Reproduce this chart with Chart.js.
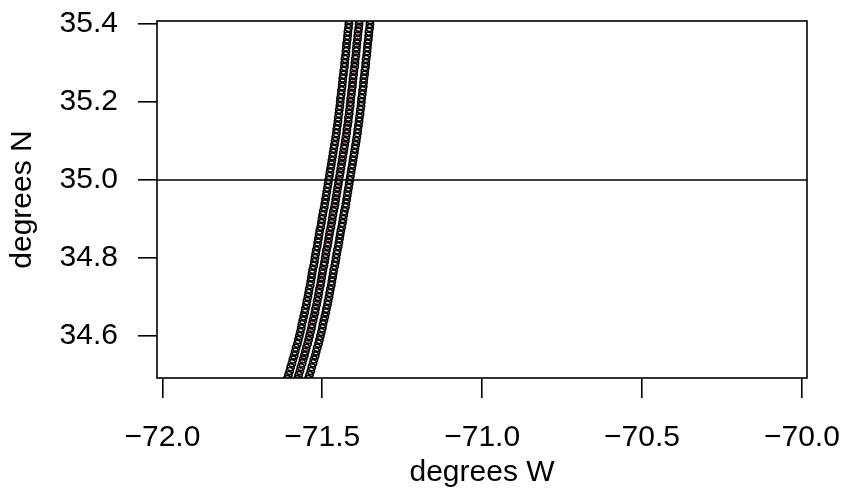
<!DOCTYPE html>
<html>
<head>
<meta charset="utf-8">
<script src="https://cdn.jsdelivr.net/npm/chart.js@4.4.0/dist/chart.umd.min.js"></script>
<style>
  body { margin: 0; background: #fff; }
  canvas { display: block; }
</style>
</head>
<body>
<canvas id="track-chart" width="847" height="491"></canvas>
<script>
// Station track data (degrees N / degrees W)
const lats = [35.42, 35.41, 35.40, 35.39, 35.38, 35.37, 35.36, 35.35, 35.34, 35.33,
  35.32, 35.31, 35.30, 35.29, 35.28, 35.27, 35.26, 35.25, 35.24, 35.23,
  35.22, 35.21, 35.20, 35.19, 35.18, 35.17, 35.16, 35.15, 35.14, 35.13,
  35.12, 35.11, 35.10, 35.09, 35.08, 35.07, 35.06, 35.05, 35.04, 35.03,
  35.02, 35.01, 35.00, 34.99, 34.98, 34.97, 34.96, 34.95, 34.94, 34.93,
  34.92, 34.91, 34.90, 34.89, 34.88, 34.87, 34.86, 34.85, 34.84, 34.83,
  34.82, 34.81, 34.80, 34.79, 34.78, 34.77, 34.76, 34.75, 34.74, 34.73,
  34.72, 34.71, 34.70, 34.69, 34.68, 34.67, 34.66, 34.65, 34.64, 34.63,
  34.62, 34.61, 34.60, 34.59, 34.58, 34.57, 34.56, 34.55, 34.54, 34.53,
  34.52, 34.51, 34.50, 34.49, 34.48];

const lonWest = [-71.415, -71.416, -71.417, -71.418, -71.420, -71.421, -71.422, -71.424, -71.425, -71.426,
  -71.427, -71.429, -71.430, -71.431, -71.433, -71.434, -71.436, -71.437, -71.438, -71.440,
  -71.441, -71.443, -71.444, -71.445, -71.447, -71.448, -71.450, -71.451, -71.453, -71.455,
  -71.456, -71.458, -71.460, -71.462, -71.464, -71.466, -71.468, -71.470, -71.472, -71.474,
  -71.476, -71.478, -71.480, -71.482, -71.484, -71.486, -71.488, -71.490, -71.492, -71.494,
  -71.497, -71.499, -71.501, -71.503, -71.505, -71.508, -71.510, -71.512, -71.514, -71.516,
  -71.519, -71.521, -71.523, -71.525, -71.527, -71.530, -71.532, -71.534, -71.536, -71.538,
  -71.541, -71.543, -71.545, -71.548, -71.550, -71.553, -71.555, -71.558, -71.561, -71.564,
  -71.566, -71.569, -71.572, -71.575, -71.578, -71.582, -71.585, -71.588, -71.592, -71.595,
  -71.599, -71.602, -71.606, -71.610, -71.614];

const lonMid = [-71.383, -71.384, -71.385, -71.386, -71.388, -71.389, -71.390, -71.392, -71.393, -71.394,
  -71.395, -71.397, -71.398, -71.399, -71.401, -71.402, -71.404, -71.405, -71.406, -71.408,
  -71.409, -71.411, -71.412, -71.413, -71.415, -71.416, -71.418, -71.419, -71.421, -71.423,
  -71.424, -71.426, -71.428, -71.430, -71.432, -71.434, -71.436, -71.438, -71.440, -71.442,
  -71.444, -71.446, -71.448, -71.450, -71.452, -71.454, -71.456, -71.458, -71.460, -71.462,
  -71.465, -71.467, -71.469, -71.471, -71.473, -71.476, -71.478, -71.480, -71.482, -71.484,
  -71.487, -71.489, -71.491, -71.493, -71.495, -71.498, -71.500, -71.502, -71.504, -71.506,
  -71.509, -71.511, -71.513, -71.516, -71.518, -71.521, -71.523, -71.526, -71.529, -71.532,
  -71.534, -71.537, -71.540, -71.543, -71.546, -71.550, -71.553, -71.556, -71.560, -71.563,
  -71.567, -71.570, -71.574, -71.578, -71.582];

const lonEast = [-71.349, -71.350, -71.351, -71.352, -71.354, -71.355, -71.356, -71.358, -71.359, -71.360,
  -71.361, -71.363, -71.364, -71.365, -71.367, -71.368, -71.370, -71.371, -71.372, -71.374,
  -71.375, -71.377, -71.378, -71.379, -71.381, -71.382, -71.384, -71.385, -71.387, -71.389,
  -71.390, -71.392, -71.394, -71.396, -71.398, -71.400, -71.402, -71.404, -71.406, -71.408,
  -71.410, -71.412, -71.414, -71.416, -71.418, -71.420, -71.422, -71.424, -71.426, -71.428,
  -71.431, -71.433, -71.435, -71.437, -71.439, -71.442, -71.444, -71.446, -71.448, -71.450,
  -71.453, -71.455, -71.457, -71.459, -71.461, -71.464, -71.466, -71.468, -71.470, -71.472,
  -71.475, -71.477, -71.479, -71.482, -71.484, -71.487, -71.489, -71.492, -71.495, -71.498,
  -71.500, -71.503, -71.506, -71.509, -71.512, -71.516, -71.519, -71.522, -71.526, -71.529,
  -71.533, -71.536, -71.540, -71.544, -71.548];

const refLat = 35.0;
const xTicks = [-72.0, -71.5, -71.0, -70.5, -70.0];
const yTicks = [34.6, 34.8, 35.0, 35.2, 35.4];
const xRange = [-72.017, -69.984];
const yRange = [34.4923, 35.4077];

Chart.defaults.font.family = "'Liberation Sans', Arial, sans-serif";
Chart.defaults.color = '#000';

function toPoints(lons) {
    return lats.map((lat, i) => ({ x: lons[i], y: lat }));
}

function minusLabel(v, digits) {
    const s = Math.abs(v).toFixed(digits);
    return v < 0 ? '\u2212' + s : s;
}

// labels may hang past the plot edges, as in R, so drop the extra padding
function noEdgePadding(s) {
    s.paddingLeft = 0;
    s.paddingRight = 0;
    s.paddingTop = 0;
    s.paddingBottom = 0;
}

// box round the plot region, like R's box()
const boxPlugin = {
    id: 'box',
    afterDatasetsDraw(chart) {
        const a = chart.chartArea;
        const ctx = chart.ctx;
        ctx.save();
        ctx.strokeStyle = '#000';
        ctx.lineWidth = 1.6;
        ctx.strokeRect(a.left, a.top, a.right - a.left, a.bottom - a.top);
        ctx.restore();
    }
};

const circleStyle = {
    showLine: false,
    pointStyle: 'circle',
    pointRadius: 3.6,
    pointBorderWidth: 1.7,
    pointBorderColor: '#000',
    pointBackgroundColor: 'rgba(255,255,255,0)'
};

new Chart(document.getElementById('track-chart'), {
    type: 'scatter',
    data: {
        datasets: [
            {
                label: 'reference',
                data: [{ x: xRange[0], y: refLat }, { x: xRange[1], y: refLat }],
                showLine: true,
                borderColor: '#000',
                borderWidth: 1.6,
                pointRadius: 0
            },
            Object.assign({ label: 'west', data: toPoints(lonWest) }, circleStyle),
            Object.assign({ label: 'east', data: toPoints(lonEast) }, circleStyle),
            Object.assign({ label: 'mid', data: toPoints(lonMid) }, circleStyle, {
                showLine: true,
                borderColor: '#DF536B',
                borderWidth: 1.8,
                borderDash: [4, 3]
            })
        ]
    },
    options: {
        responsive: false,
        animation: false,
        layout: { padding: { top: 21, right: 40, left: 0, bottom: 0 } },
        plugins: {
            legend: { display: false },
            tooltip: { enabled: false }
        },
        scales: {
            x: {
                type: 'linear',
                min: xRange[0],
                max: xRange[1],
                afterBuildTicks: s => { s.ticks = xTicks.map(v => ({ value: v })); },
                afterFit: s => { s.height = 113; noEdgePadding(s); },
                border: { display: false },
                grid: {
                    drawOnChartArea: false,
                    color: '#000',
                    lineWidth: 1.6,
                    tickLength: 20
                },
                ticks: {
                    padding: 22,
                    maxRotation: 0,
                    font: { size: 30, lineHeight: 1.2 },
                    callback: v => minusLabel(v, 1)
                },
                title: {
                    display: true,
                    text: 'degrees W',
                    font: { size: 30, lineHeight: 1.2 },
                    padding: { top: 0, bottom: 0 }
                }
            },
            y: {
                type: 'linear',
                min: yRange[0],
                max: yRange[1],
                afterBuildTicks: s => { s.ticks = yTicks.map(v => ({ value: v })); },
                afterFit: s => { s.width = 157; noEdgePadding(s); },
                border: { display: false },
                grid: {
                    drawOnChartArea: false,
                    color: '#000',
                    lineWidth: 1.6,
                    tickLength: 19
                },
                ticks: {
                    padding: 20,
                    font: { size: 30, lineHeight: 1.2 },
                    callback: v => v.toFixed(1)
                },
                title: {
                    display: true,
                    text: 'degrees N',
                    font: { size: 30, lineHeight: 1.2 },
                    padding: { top: 5, bottom: 0 }
                }
            }
        }
    },
    plugins: [boxPlugin]
});
</script>
</body>
</html>
